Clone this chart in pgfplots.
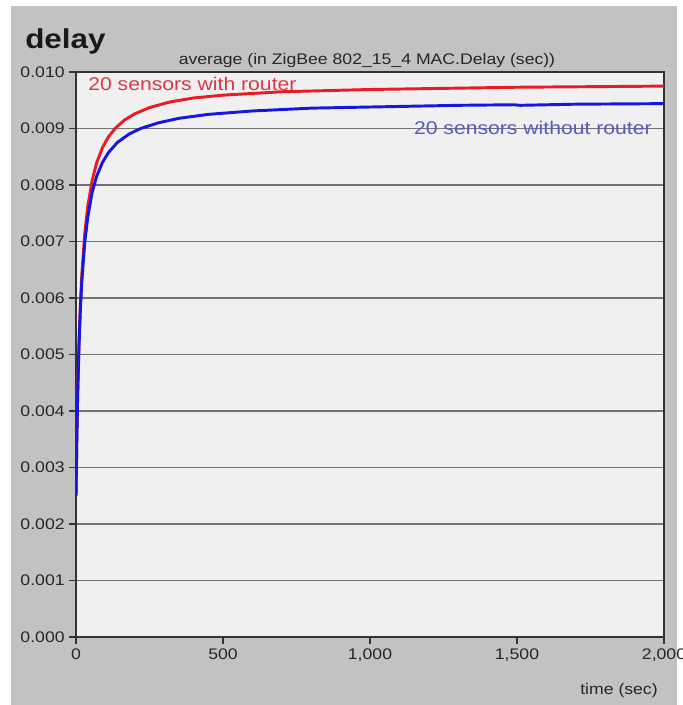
\documentclass[border=0pt]{standalone}
\usepackage{fontspec}
\setmainfont{Liberation Sans}[FakeStretch=1.15]
\usepackage{pgfplots}
\pgfplotsset{compat=1.18}
\definecolor{panelgrey}{RGB}{194,194,194}
\definecolor{plotbg}{RGB}{240,240,240}
\definecolor{gridgrey}{RGB}{115,115,115}
\definecolor{routerred}{RGB}{232,28,36}
\definecolor{norouterblue}{RGB}{22,22,222}
\definecolor{redtext}{RGB}{214,58,72}
\definecolor{bluetext}{RGB}{88,88,196}

\begin{document}
\begin{tikzpicture}
% image frame: 1px = 0.75pt, origin at the axis' lower left corner
\path[use as bounding box] (-57pt,-51pt) rectangle (454.5pt,477.75pt);
\fill[panelgrey] (-48.75pt,-51pt) rectangle (450.75pt,473.25pt);
\begin{axis}[
  at={(0pt,0pt)}, anchor=south west,
  scale only axis, width=441pt, height=423.75pt,
  xmin=0, xmax=2000, ymin=0, ymax=0.010,
  xtick={0,500,1000,1500,2000},
  ytick={0,0.001,0.002,0.003,0.004,0.005,0.006,0.007,0.008,0.009,0.010},
  scaled y ticks=false, scaled x ticks=false,
  yticklabel style={/pgf/number format/.cd,fixed,fixed zerofill,precision=3},
  xticklabel style={/pgf/number format/.cd,1000 sep={,}},
  /pgf/number format/assume math mode=true,
  tick label style={font=\fontsize{11.5}{13}\selectfont, text=black!85},
  ymajorgrids, grid style={gridgrey, line width=0.8pt},
  axis line style={black!80, line width=1pt},
  tick style={black!80, line width=1pt},
  tick align=outside, major tick length=5pt,
  xtick pos=bottom, ytick pos=left,
  axis background/.style={fill=plotbg},
]
% 20 sensors with router
\addplot[routerred, line width=2.2pt, line join=round] coordinates {
  (0,0.00250) (3,0.00358) (6,0.00438) (10,0.00518) (15,0.00590) (20,0.00643)
  (30,0.00715) (40,0.00762) (55,0.00808) (70,0.00839) (90,0.00866)
  (110,0.00885) (135,0.00901) (165,0.00915) (200,0.00926) (250,0.00937)
  (320,0.00947) (400,0.00954) (500,0.00959) (700,0.00965) (1000,0.00969)
  (1500,0.00973) (2000,0.00975)
};
% 20 sensors without router
\addplot[norouterblue, line width=2.2pt, line join=round] coordinates {
  (0,0.00250) (3,0.00357) (6,0.00435) (10,0.00512) (15,0.00581) (20,0.00631)
  (30,0.00699) (40,0.00743) (55,0.00787) (70,0.00815) (90,0.00840)
  (110,0.00857) (140,0.00875) (180,0.00890) (220,0.00900) (280,0.00910)
  (350,0.00918) (450,0.00925) (600,0.00931) (800,0.00936) (1000,0.00938)
  (1300,0.00941) (1490,0.00942) (1510,0.00941) (1700,0.00943) (2000,0.00944)
};
\node[anchor=west, inner sep=0pt, text=redtext, font=\fontsize{13.8}{15}\selectfont]
  at (axis cs:41,0.00979) {20 sensors with router};
\node[anchor=east, inner sep=0pt, text=bluetext, font=\fontsize{13.8}{15}\selectfont]
  at (axis cs:1959,0.00901) {20 sensors without router};
\end{axis}
\node[anchor=base west, inner sep=0pt, font=\fontsize{20.5}{22}\selectfont\bfseries, text=black!90]
  at (-38.25pt,441pt) {delay};
\node[anchor=base, inner sep=0pt, font=\fontsize{11.5}{13}\selectfont, text=black!85]
  at (218.25pt,429pt) {average (in ZigBee 802\_15\_4 MAC.Delay (sec))};
\node[anchor=base, inner sep=0pt, font=\fontsize{11.5}{13}\selectfont, text=black!85]
  at (407.25pt,-42.75pt) {time (sec)};
\end{tikzpicture}
\end{document}
